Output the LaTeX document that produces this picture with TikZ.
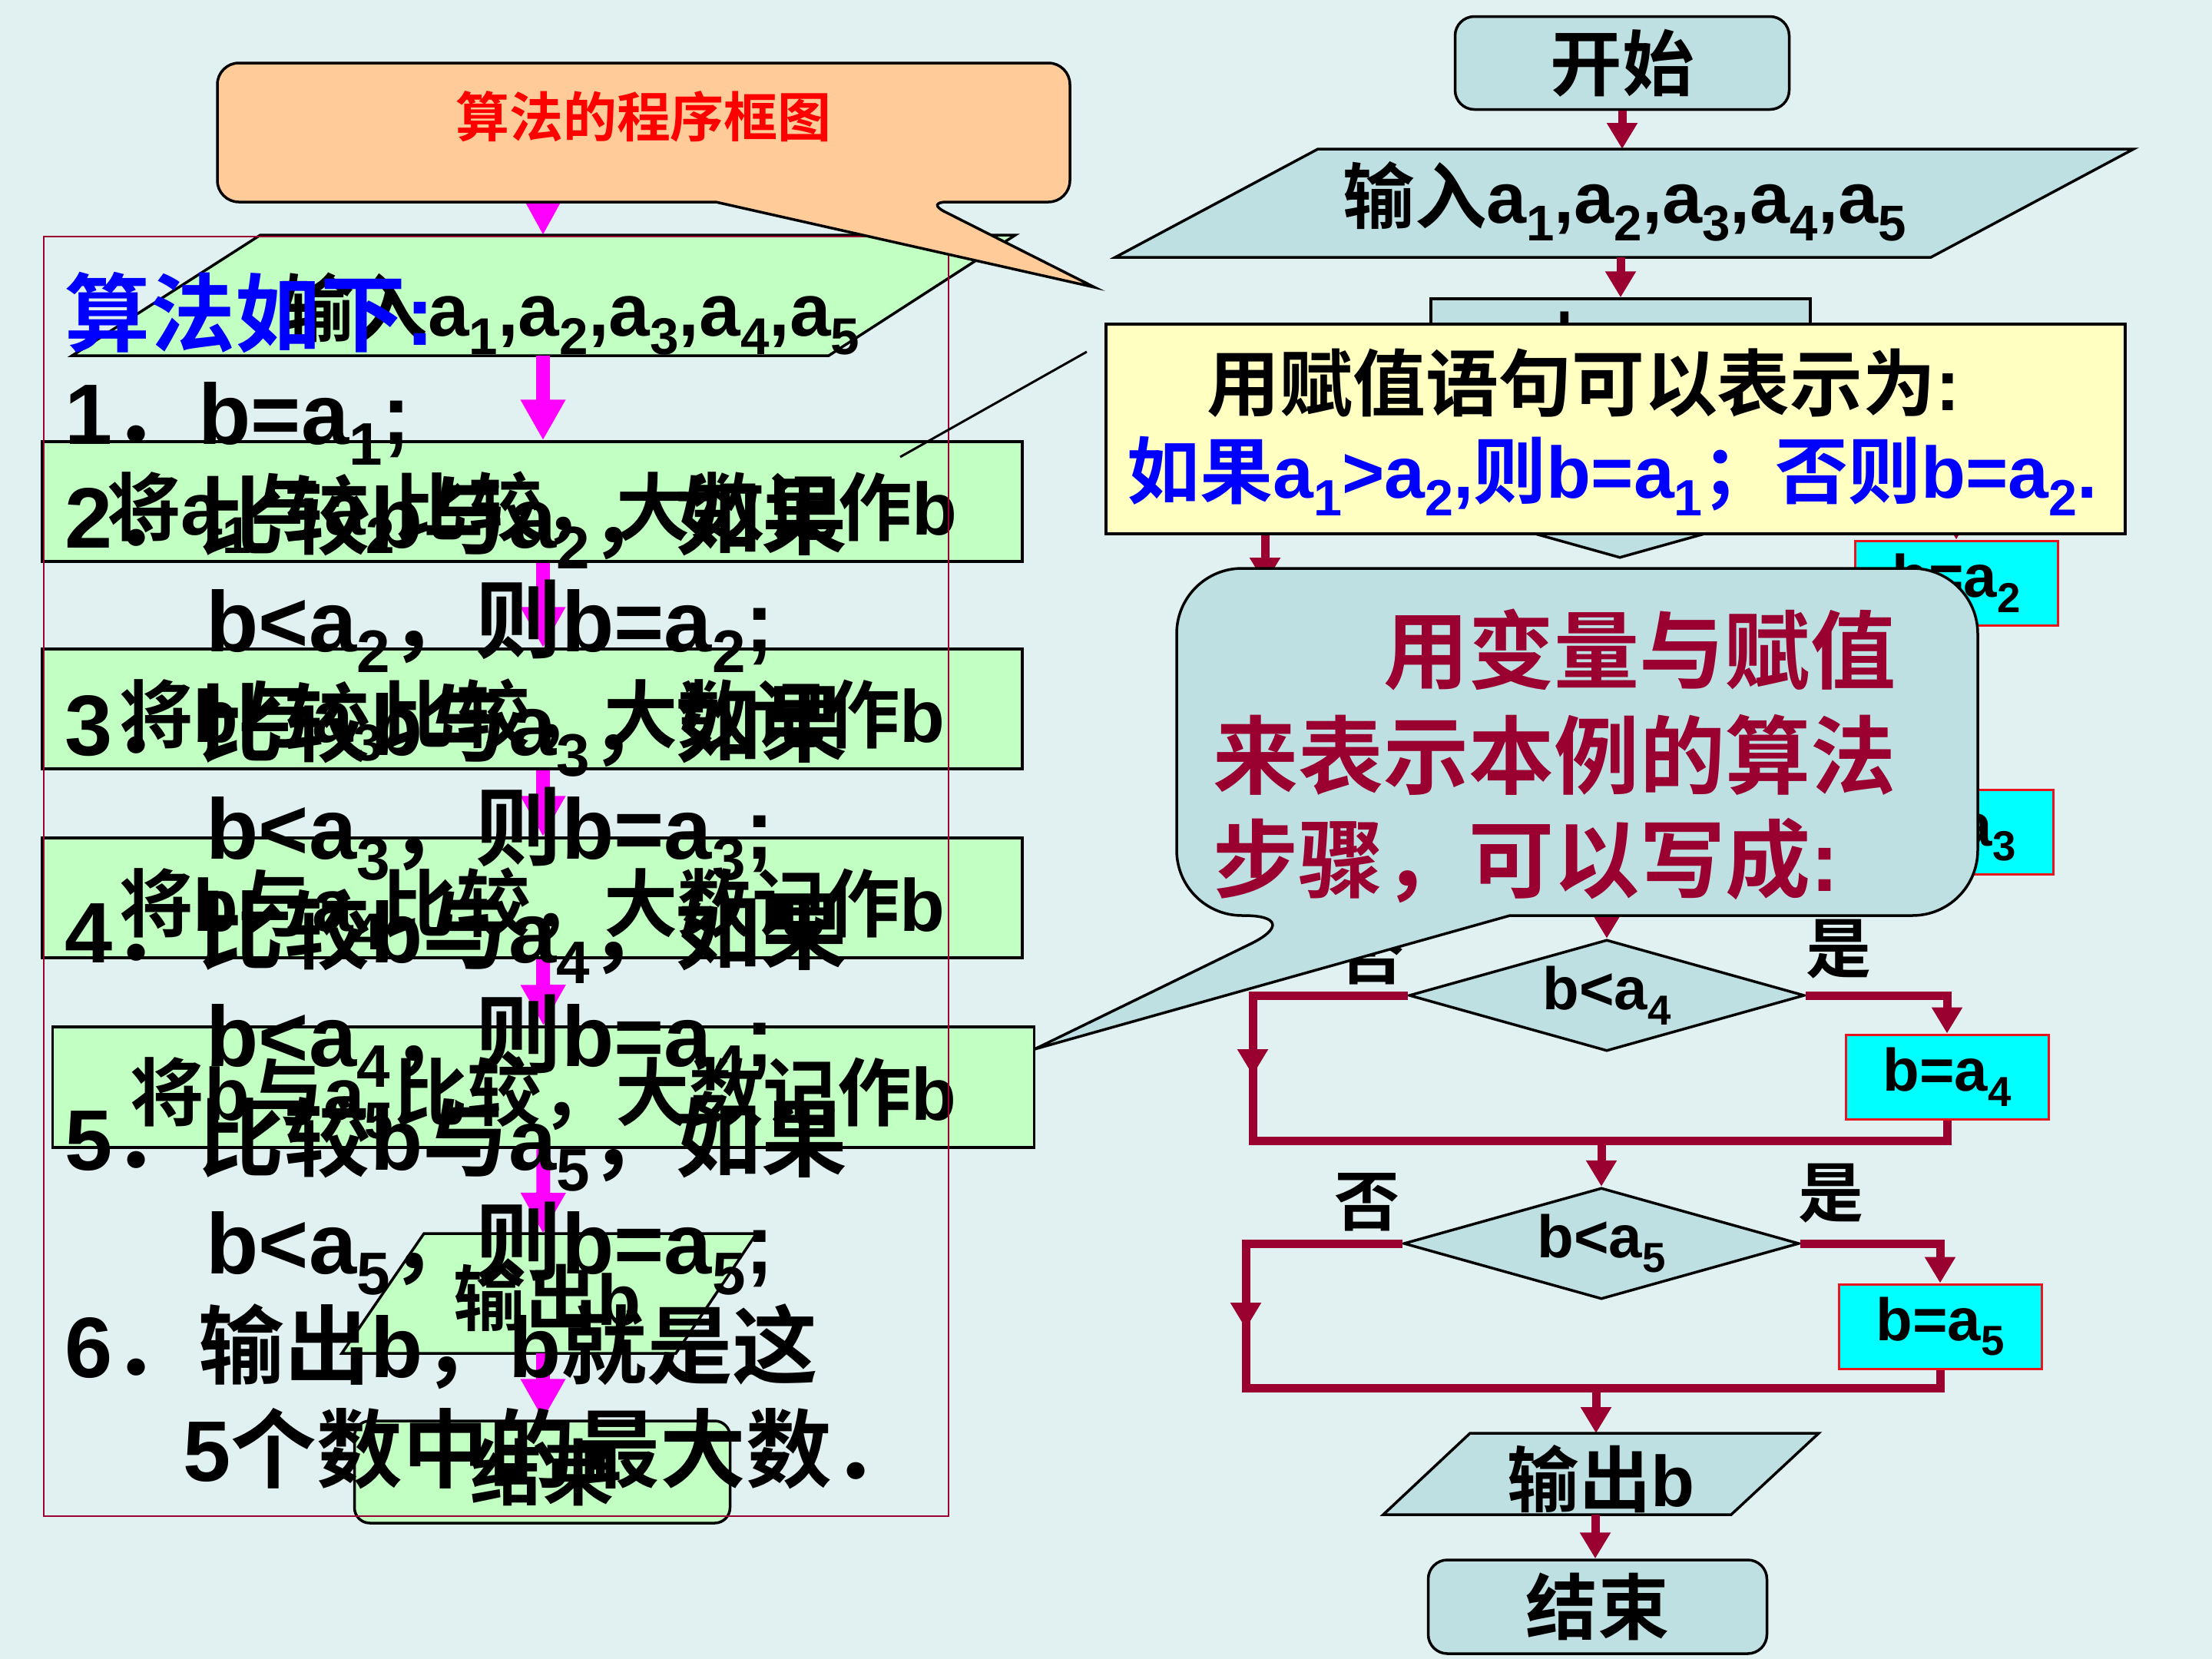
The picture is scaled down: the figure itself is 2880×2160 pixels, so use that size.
\documentclass[tikz,border=0pt]{standalone}
\usepackage{fontspec}
\usepackage{graphicx}
\usetikzlibrary{arrows.meta,shapes.geometric}
\setmainfont{Liberation Sans}
\newfontfamily\latfam{Liberation Sans}
\IfFontExistsTF{Noto Sans CJK SC Bold}
  {\newfontfamily\cjkfam{Noto Sans CJK SC Bold}}
  {\newfontfamily\cjkfam{Noto Sans CJK SC}}
\newcommand\toCJK{\cjkfam\mdseries}
\newcommand\toLAT{\latfam\bfseries}
\XeTeXinterchartokenstate=1
\newcount\cjkcnt
\cjkcnt="2E80
\loop
  \XeTeXcharclass\cjkcnt=200
  \advance\cjkcnt by 1
\ifnum\cjkcnt<"A000 \repeat
\cjkcnt="FF00
\loop
  \XeTeXcharclass\cjkcnt=200
  \advance\cjkcnt by 1
\ifnum\cjkcnt<"FFF0 \repeat
\XeTeXinterchartoks 0 200 = {\toCJK}
\XeTeXinterchartoks 4095 200 = {\toCJK}
\XeTeXinterchartoks 200 0 = {\toLAT}
\XeTeXinterchartoks 200 4095 = {\toLAT}
\newcommand\sbs[1]{\raisebox{-0.25em}{\scalebox{0.7}{#1}}}
\newcommand\fsList{\fontsize{31.8pt}{36pt}\selectfont}
\newcommand\fsHead{\fontsize{31.6pt}{36pt}\selectfont}
\newcommand\fsGrn{\fontsize{27.4pt}{31pt}\selectfont}
\newcommand\fsA{\fontsize{26.6pt}{30pt}\selectfont}
\newcommand\fsYel{\fontsize{27pt}{31pt}\selectfont}
\newcommand\fsBox{\fontsize{22.2pt}{26pt}\selectfont}
\newcommand\fsYN{\fontsize{24.2pt}{28pt}\selectfont}
\newcommand\fsTitle{\fontsize{19.9pt}{23pt}\selectfont}
\definecolor{bgc}{HTML}{E1F0F0}
\definecolor{tealF}{HTML}{BEE0E3}
\definecolor{grn}{HTML}{C2FFC2}
\definecolor{org}{HTML}{FFCC99}
\definecolor{ylw}{HTML}{FFFFC2}
\definecolor{crim}{HTML}{9A0030}
\definecolor{mag}{HTML}{FF00FF}
\definecolor{blu}{HTML}{0000FF}
\definecolor{cyn}{HTML}{00FFFF}
\definecolor{rdb}{HTML}{E8141E}
\tikzset{
  bord/.style={draw=black, line width=0.35mm},
  tnode/.style={bord, fill=tealF, inner sep=0},
  gnode/.style={bord, fill=grn, inner sep=0},
  grect/.style={gnode, minimum width=127.6mm, minimum height=15.6mm, text height=27.4pt, text depth=2.7pt, font=\fsGrn\bfseries},
  cbox/.style={draw=rdb, line width=0.3mm, fill=cyn, minimum width=26.4mm, minimum height=11mm, inner sep=0, font=\fsBox\bfseries},
  dia/.style={diamond, aspect=3.5, bord, fill=tealF, minimum width=51.5mm, minimum height=14.5mm, inner sep=0, font=\fsBox\bfseries},
  rline/.style={draw=crim, line width=1.1mm},
  rarrow/.style={rline, -{Triangle[length=3.4mm,width=3.8mm]}},
  marrow/.style={draw=mag, line width=1.8mm, -{Triangle[length=5.3mm,width=5.5mm]}},
  lst/.style={anchor=base west, inner sep=0, font=\fsList\bfseries},
  yn/.style={inner sep=0, font=\fsYN},
}
\begin{document}
\begin{tikzpicture}[x=0.1mm,y=-0.1mm]
\useasboundingbox (0,0) rectangle (2880,2160);
\fill[bgc] (0,0) rectangle (2880,2160);

% ---------------- right flowchart ----------------
\node[tnode, rounded corners=2.5mm, minimum width=43.5mm, minimum height=12.1mm, font=\fsA\bfseries] (start) at (2112,82) {开始};
\coordinate (inT) at (2112,194);
\draw[rarrow] (start.south) -- (inT);
\draw[tnode] (1716,194) -- (2778,194) -- (2514,335) -- (1452,335) -- cycle;
\node[anchor=base, inner sep=0, font=\fsA\bfseries] (inR) at (2115,290) {输入a\sbs{1},a\sbs{2},a\sbs{3},a\sbs{4},a\sbs{5}};
\coordinate (inB) at (2110,335);
\node[tnode, minimum width=49.4mm, minimum height=11mm, font=\fsBox\bfseries] (ba1) at (2110,444) {b=a\sbs{1}};
\draw[rarrow] (inB) -- (ba1.north);
\node[dia] (d2) at (2109,654) {b<a\sbs{2}};
\node[cbox] (ba2) at (2547,759) {b=a\sbs{2}};
\draw[rarrow] (d2.east) -| (ba2.north);
\coordinate (n2) at (1647,654);
\coordinate (n2a) at (1647,760);
\coordinate (n2b) at (1647,850);
\draw[rline] (d2.west) -- (n2) -- (n2b);
\draw[rarrow] (n2) -- (n2a);
\node[cbox] (ba3) at (2541,1083) {b=a\sbs{3}};
\coordinate (m3) at (2092,1160);
\node[dia] (d4) at (2092,1296) {b<a\sbs{4}};
\draw[rarrow] (m3) -- (d4.north);
\node[cbox] (ba4) at (2535,1402) {b=a\sbs{4}};
\draw[rarrow] (d4.east) -| (ba4.north);
\coordinate (n4) at (1631,1296);
\coordinate (n4a) at (1631,1400);
\coordinate (m4l) at (1631,1485);
\coordinate (m4r) at (2535,1485);
\draw[rline] (d4.west) -- (n4) -- (m4l) -- (m4r) -- (ba4.south);
\draw[rarrow] (n4) -- (n4a);
\node[yn] (no4) at (1786,1244) {否};
\node[yn] (yes4) at (2394,1236) {是};
\node[dia] (d5) at (2085,1619) {b<a\sbs{5}};
\draw[rarrow] (d5.north |- m4l) -- (d5.north);
\node[cbox] (ba5) at (2526,1727) {b=a\sbs{5}};
\draw[rarrow] (d5.east) -| (ba5.north);
\coordinate (n5) at (1622,1619);
\coordinate (n5a) at (1622,1730);
\coordinate (m5l) at (1622,1807);
\coordinate (m5r) at (2526,1807);
\draw[rline] (d5.west) -- (n5) -- (m5l) -- (m5r) -- (ba5.south);
\draw[rarrow] (n5) -- (n5a);
\node[yn] (no5) at (1780,1565) {否};
\node[yn] (yes5) at (2384,1554) {是};
\coordinate (m5c) at (2078,1807);
\coordinate (oT) at (2078,1866);
\draw[rarrow] (m5c) -- (oT);
\draw[tnode] (1914,1866) -- (2368,1866) -- (2254,1972) -- (1801,1972) -- cycle;
\node[inner sep=0, font=\fsA\bfseries] (outR) at (2085,1926) {输出b};
\node[tnode, rounded corners=2.5mm, minimum width=44.1mm, minimum height=12.2mm, font=\fsA\bfseries] (endR) at (2080,2092) {结束};
\coordinate (oB) at (2077,1972);
\draw[rarrow] (oB) -- (oB |- endR.north);

% yellow box
\node[bord, fill=ylw, minimum width=132.7mm, minimum height=27.3mm, inner sep=0] (yb) at (2103.5,558.5) {};
\node[anchor=base west, inner sep=0, font=\fsYel\bfseries] (y1) at (1571,534) {用赋值语句可以表示为:};
\node[anchor=base west, inner sep=0, font=\fsYel\bfseries, text=blu] (y2) at (1467,648) {如果a\sbs{1}>a\sbs{2},则b=a\sbs{1}；否则b=a\sbs{2}.};

% teal callout
\draw[bord, fill=tealF] (1966,1192) [rounded corners=8.5mm] -- (2575,1192) -- (2575,740) -- (1532,740) -- (1532,1192) -- (1704,1192) [sharp corners] -- (1347,1366) -- cycle;
\node[anchor=base west, inner sep=0, font=\fsHead, text=crim] (t1) at (1801,888) {用变量与赋值};
\node[anchor=base west, inner sep=0, font=\fsHead, text=crim] (t2) at (1579,1025) {来表示本例的算法};
\node[anchor=base west, inner sep=0, font=\fsHead\bfseries, text=crim] (t3) at (1579,1160) {步骤，可以写成:};

% ---------------- left side ----------------
\draw[gnode] (339,306) -- (1322,306) -- (1079,463) -- (94,463) -- cycle;
\node[anchor=base, inner sep=0, font=\fsGrn\bfseries] (inL) at (742,437) {输入a\sbs{1},a\sbs{2},a\sbs{3},a\sbs{4},a\sbs{5}};
\coordinate (inLB) at (707,463);
\node[grect] (r1) at (693,653) {将a\sbs{1}与a\sbs{2}比较，大数记作b};
\node[grect] (r2) at (693,923) {将b与a\sbs{3}比较，大数记作b};
\node[grect] (r3) at (693,1169) {将b与a\sbs{4}比较，大数记作b};
\node[grect, minimum width=127.8mm, minimum height=15.7mm] (r4) at (707.5,1415.5) {将b与a\sbs{5}比较，大数记作b};
\draw[gnode] (552,1606) -- (985,1606) -- (880,1762) -- (445,1762) -- cycle;
\node[inner sep=0, font=\fsA\bfseries] (outL) at (713,1690) {输出b};
\coordinate (oLT) at (707,1606);
\coordinate (oLB) at (707,1762);
\node[gnode, rounded corners=2mm, minimum width=48.9mm, minimum height=13.3mm, font=\fsA\bfseries] (endL) at (706,1916.5) {结束};
\draw[marrow] (inLB) -- (inLB |- r1.north);
\draw[marrow] ([xshift=1.4mm]r1.south) -- ([xshift=1.4mm]r2.north);
\draw[marrow] ([xshift=1.4mm]r2.south) -- ([xshift=1.4mm]r3.north);
\draw[marrow] ([xshift=1.4mm]r3.south) -- (r4.north);
\draw[marrow] (r4.south) -- (oLT);
\draw[marrow] (oLB) -- (oLB |- endL.north);
% thin border
\draw[draw=crim, line width=0.22mm] (57,308) rectangle (1235,1974);
% orange callout
\coordinate (cb) at (707,200);
\coordinate (inLT) at (707,306);
\draw[draw=mag, line width=1.8mm, -{Triangle[length=4.2mm,width=4.2mm]}] (cb) -- (inLT);
\draw[bord, fill=org] (932,263) [rounded corners=2.8mm] -- (283,263) -- (283,82) -- (1393,82) -- (1393,263) -- (1205,263) [sharp corners] -- (1425,374) -- cycle;
\node[inner sep=0, font=\fsTitle, text=red] (ttl) at (838,152) {算法的程序框图};
% list
\node[anchor=base west, inner sep=0, font=\fsHead\bfseries, text=blu] (hd) at (84,449) {算法如下:};
\node[lst] (l1) at (84,578) {1．b=a\sbs{1};};
\node[lst] (l2) at (84,713) {2．比较b与a\sbs{2}，如果};
\node[lst] (l3) at (268,848) {b<a\sbs{2}，则b=a\sbs{2};};
\node[lst] (l4) at (84,983) {3．比较b与a\sbs{3}，如果};
\node[lst] (l5) at (268,1118) {b<a\sbs{3}，则b=a\sbs{3};};
\node[lst] (l6) at (84,1253) {4．比较b与a\sbs{4}，如果};
\node[lst] (l7) at (268,1388) {b<a\sbs{4}，则b=a\sbs{4};};
\node[lst] (l8) at (84,1523) {5．比较b与a\sbs{5}，如果};
\node[lst] (l9) at (268,1658) {b<a\sbs{5}，则b=a\sbs{5};};
\node[lst] (l10) at (84,1793) {6．输出b，b就是这};
\node[lst] (l11) at (238,1928) {5个数中的最大数．};
% thin line
\coordinate (ln1) at (1172,595);
\coordinate (ln2) at (1415,458);
\draw[draw=black, line width=0.3mm] (ln1) -- (ln2);
\end{tikzpicture}
\end{document}
